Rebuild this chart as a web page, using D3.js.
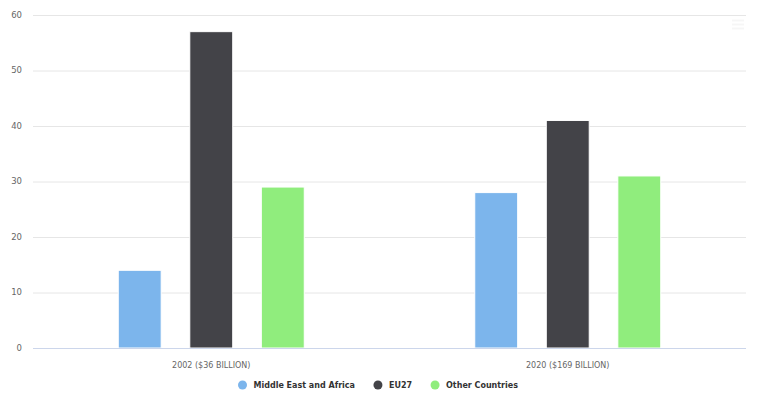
<!DOCTYPE html>
<meta charset="utf-8">
<script src="https://cdn.jsdelivr.net/npm/d3@7"></script>
<style>
body { margin: 0; background: #fff; }
text { font-family: "DejaVu Sans", Verdana, sans-serif; }
</style>
<body>
<script>
var categories = ["2002 ($36 BILLION)", "2020 ($169 BILLION)"];
var seriesNames = ["Middle East and Africa", "EU27", "Other Countries"];
var middleEast = [14, 28];
var eu27 = [57, 41];
var otherCountries = [29, 31];
var yTicks = [0, 10, 20, 30, 40, 50, 60];

var colors = ["#7cb5ec", "#434348", "#90ed7d"];
var seriesValues = [middleEast, eu27, otherCountries];

var W = 769, H = 400;
var margin = {top: 15, right: 23, bottom: 52, left: 33},
    width = W - margin.left - margin.right,
    height = H - margin.top - margin.bottom;

var svg = d3.select("body").append("svg")
    .attr("width", W)
    .attr("height", H);

var g = svg.append("g")
    .attr("transform", "translate(" + margin.left + "," + margin.top + ")");

var groupW = 186;
var x0 = d3.scaleBand().domain(categories).range([0, width]);
var x1 = d3.scaleBand().domain(seriesNames).range([0, groupW]).paddingInner(0.4);
var y = d3.scaleLinear().domain([0, 60]).range([height, 0]);

// gridlines
g.selectAll(".grid")
  .data(yTicks)
  .enter().append("line")
  .attr("x1", 0).attr("x2", width)
  .attr("y1", function(d) { return y(d) + 0.5; })
  .attr("y2", function(d) { return y(d) + 0.5; })
  .attr("stroke", "#e6e6e6");

// y labels
g.selectAll(".ylab")
  .data(yTicks)
  .enter().append("text")
  .attr("x", -11)
  .attr("y", function(d) { return y(d); })
  .attr("dy", "0.35em")
  .attr("text-anchor", "end")
  .style("font-size", "8.5px")
  .attr("fill", "#666")
  .text(function(d) { return d; });

// bars
var groups = g.selectAll(".cat")
  .data(categories)
  .enter().append("g")
  .attr("transform", function(d) {
    return "translate(" + (x0(d) + x0.bandwidth() / 2 - groupW / 2) + ",0)";
  });

groups.selectAll("rect")
  .data(function(d, i) {
    return seriesNames.map(function(s, j) { return {name: s, value: seriesValues[j][i], c: colors[j]}; });
  })
  .enter().append("rect")
  .attr("x", function(d) { return x1(d.name); })
  .attr("y", function(d) { return y(d.value); })
  .attr("width", x1.bandwidth())
  .attr("height", function(d) { return height - y(d.value); })
  .attr("fill", function(d) { return d.c; })
  .attr("stroke", "#fff")
  .attr("stroke-width", 1);

// x axis line
g.append("line")
  .attr("x1", 0).attr("x2", width)
  .attr("y1", height + 0.5).attr("y2", height + 0.5)
  .attr("stroke", "#ccd6eb");

g.selectAll(".xlab")
  .data(categories)
  .enter().append("text")
  .attr("x", function(d) { return x0(d) + x0.bandwidth() / 2; })
  .attr("y", height + 20)
  .attr("text-anchor", "middle")
  .style("font-size", "8px")
  .attr("fill", "#666")
  .text(function(d) { return d; });

// legend
var legend = svg.append("g");
var lx = 0;
var items = legend.selectAll(".item")
  .data(seriesNames)
  .enter().append("g");
items.append("circle")
  .attr("r", 4.5)
  .attr("cy", 0)
  .attr("fill", function(d, i) { return colors[i]; });
items.append("text")
  .attr("x", 11)
  .attr("dy", "0.35em")
  .style("font-size", "8px")
  .style("font-weight", "bold")
  .attr("fill", "#333")
  .text(function(d) { return d; });
items.each(function() {
  var it = d3.select(this);
  it.attr("transform", "translate(" + lx + ",0)");
  lx += 11 + it.select("text").node().getComputedTextLength() + 23;
});
var legendW = lx - 23 + 4.5;
legend.attr("transform", "translate(" + (378 - legendW / 2 + 4.5) + ",385)");

// faint menu icon
[20, 24, 28].forEach(function(yy) {
  svg.append("line")
    .attr("x1", 732).attr("x2", 744)
    .attr("y1", yy + 0.5).attr("y2", yy + 0.5)
    .attr("stroke", "#f6f6f6")
    .attr("stroke-width", 2);
});
</script>
</body>
</html>
